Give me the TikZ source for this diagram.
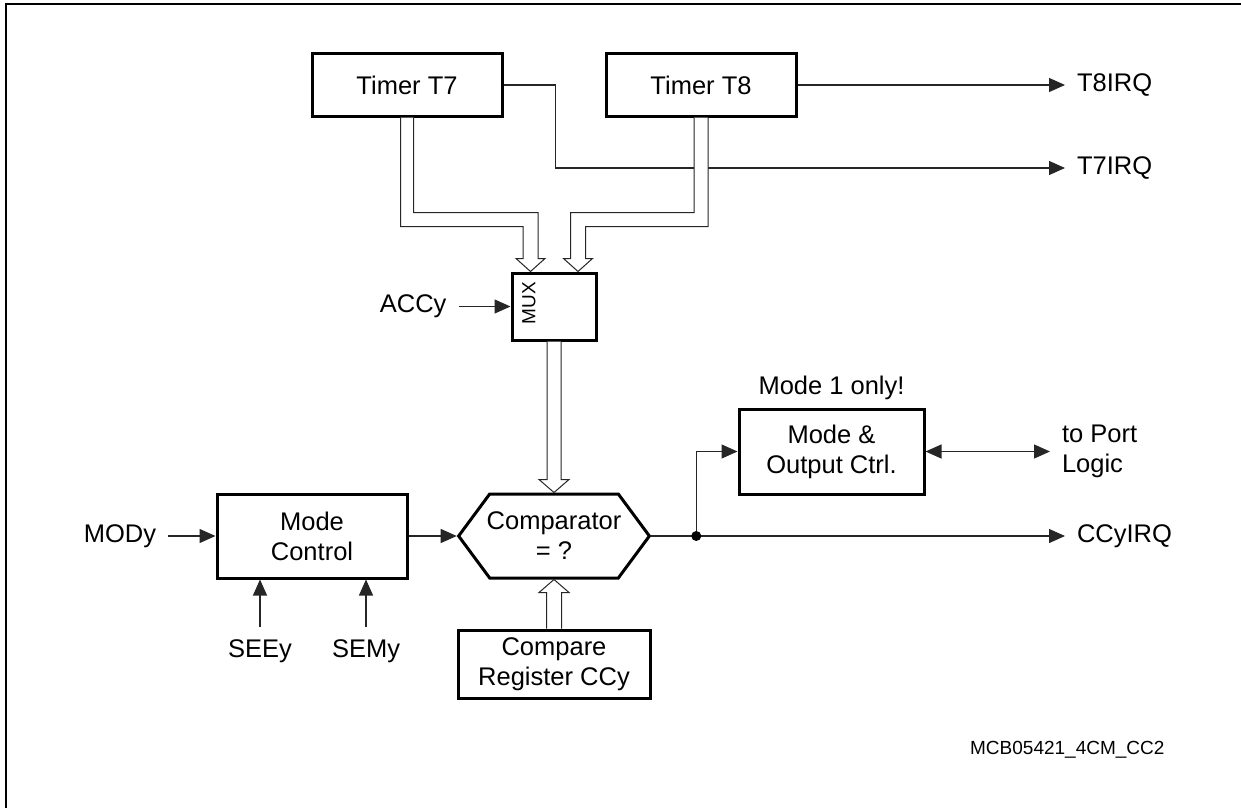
\documentclass[tikz,border=0pt]{standalone}
\usepackage{fontspec}
\setmainfont{Liberation Sans}
\usetikzlibrary{arrows.meta, positioning, shapes.symbols, calc}

\tikzset{
  blk/.style={draw, line width=3pt, align=center},
  wire/.style={draw=black!85, line width=1.2pt},
  bus/.style={draw=black!85, line width=1pt, fill=white},
  lbl/.style={inner sep=0pt, outer sep=12pt},
}

\begin{document}
\begin{tikzpicture}[x=1pt, y=-1pt, font=\fontsize{25.5}{30}\selectfont,
    >={Triangle[length=16pt,width=14pt]}]
  \useasboundingbox (0,0) rectangle (1241,808);
  \draw[line width=1.5pt] (1241,4) -- (6,4) -- (6,808);

  % blocks
  \node[blk, minimum width=190pt, minimum height=62pt] (t7) at (407,85) {Timer T7};
  \node[blk, minimum width=190pt, minimum height=62pt] (t8) at (701,85) {Timer T8};
  \node[blk, minimum width=84pt, minimum height=67pt] (mux) at (554,306.5) {};
  \node[font=\fontsize{19}{21}\selectfont, rotate=90] (muxl) at (529,303) {MUX};
  \node[blk, minimum width=190pt, minimum height=84pt] (mctl) at (312,536) {Mode\\Control};
  \node[blk, signal, signal to=east and west, signal pointer angle=107,
    inner xsep=-3pt, minimum width=175pt, minimum height=84pt] (cmp) at (554,536) {Comparator\\= ?};
  \node[blk, minimum width=192pt, minimum height=68pt] (creg) at (554,664) {Compare\\Register CCy};
  \node[blk, minimum width=185pt, minimum height=85pt] (moc) at (831.5,451.5) {Mode \&\\Output Ctrl.};
  \node[inner sep=0pt, above=8pt of moc] (only) {Mode 1 only!};

  % signal names
  \node[lbl, left=52pt of mux] (accy) {ACCy};
  \node[lbl, anchor=east] (mody) at (168,536) {MODy};
  \node[lbl] (seey) at (260,651) {SEEy};
  \node[lbl] (semy) at (366,651) {SEMy};
  \node[lbl, anchor=west] (t8irq) at (1065,85) {T8IRQ};
  \node[lbl, anchor=west] (t7irq) at (1065,168) {T7IRQ};
  \node[lbl, anchor=west] (ccyirq) at (1065,536) {CCyIRQ};
  \node[lbl, anchor=west, align=left] (port) at (1050,451.5) {to Port\\Logic};
  \node[font=\fontsize{19}{22}\selectfont, anchor=east] (mcb) at (1168,750) {MCB05421\_4CM\_CC2};

  % wires
  \draw[wire, ->] (t8.east) -- (t8irq.west);
  \draw[wire, ->] (t7.east) -- ++(52,0) |- (t7irq.west);
  \draw[wire, ->] (accy.east) -- (mux.west);
  \draw[wire, ->] (mody.east) -- (mctl.west);
  \draw[wire, ->] (seey.north) -- (seey.north |- mctl.south);
  \draw[wire, ->] (semy.north) -- (semy.north |- mctl.south);
  \draw[wire, ->] (mctl.east) -- (cmp.west);
  \coordinate (jn) at ([xshift=45pt]cmp.east);
  \draw[wire, ->] (cmp.east) -- (jn) -- (ccyirq.west);
  \draw[wire, ->] (jn) |- (moc.west);
  \fill (jn) circle (5);
  \draw[wire, <->] (moc.east) -- (port.west);

  % buses
  \coordinate (m7) at ([xshift=-23.5pt]mux.north);
  \coordinate (m8) at ([xshift=24pt]mux.north);
  \draw[bus] ([xshift=-6.5pt]t7.south) |- ([xshift=-7.5pt,yshift=45pt]m7)
    -- ([xshift=-7.5pt,yshift=13pt]m7) -- ([xshift=-14.5pt,yshift=13pt]m7) -- (m7)
    -- ([xshift=14.5pt,yshift=13pt]m7) -- ([xshift=7.5pt,yshift=13pt]m7)
    -- ([xshift=7.5pt,yshift=59pt]m7) -| ([xshift=6.5pt]t7.south);
  \draw[bus] ([xshift=7pt]t8.south) |- ([xshift=7.5pt,yshift=45pt]m8)
    -- ([xshift=7.5pt,yshift=13pt]m8) -- ([xshift=14.5pt,yshift=13pt]m8) -- (m8)
    -- ([xshift=-14.5pt,yshift=13pt]m8) -- ([xshift=-7.5pt,yshift=13pt]m8)
    -- ([xshift=-7.5pt,yshift=59pt]m8) -| ([xshift=-7pt]t8.south);
  \draw[bus] ([xshift=-7pt]mux.south) -- ([xshift=-7pt,yshift=13pt]cmp.north)
    -- ([xshift=-15pt,yshift=13pt]cmp.north) -- (cmp.north)
    -- ([xshift=15pt,yshift=13pt]cmp.north) -- ([xshift=7pt,yshift=13pt]cmp.north)
    -- ([xshift=7pt]mux.south);
  \draw[bus] ([xshift=-7.5pt]creg.north) -- ([xshift=-7.5pt,yshift=-13pt]cmp.south)
    -- ([xshift=-15pt,yshift=-13pt]cmp.south) -- (cmp.south)
    -- ([xshift=15pt,yshift=-13pt]cmp.south) -- ([xshift=7.5pt,yshift=-13pt]cmp.south)
    -- ([xshift=7.5pt]creg.north);
\end{tikzpicture}
\end{document}
